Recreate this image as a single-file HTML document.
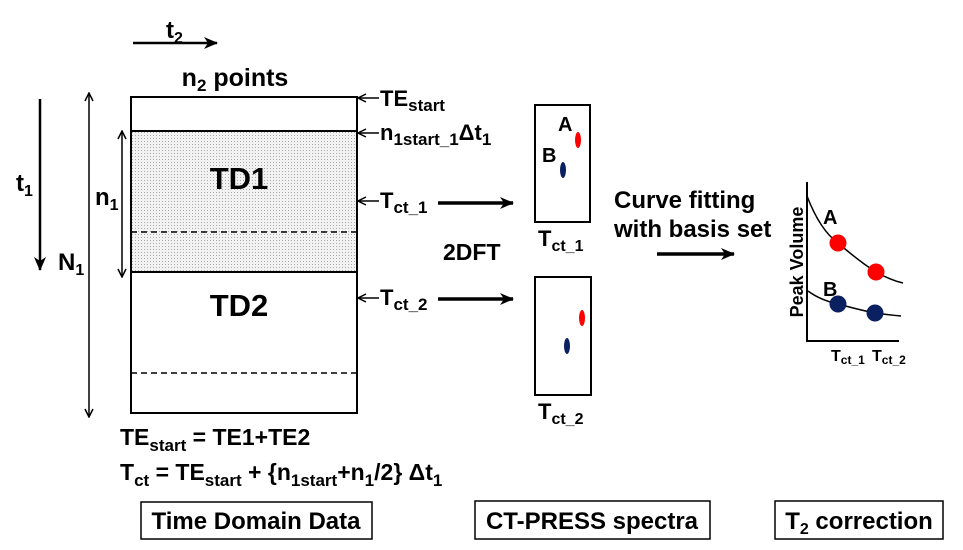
<!DOCTYPE html>
<html><head><meta charset="utf-8"><style>
html,body{margin:0;padding:0;background:#fff;}
svg{display:block;font-family:"Liberation Sans",Arial,sans-serif;font-weight:bold;}
</style></head><body>
<svg width="963" height="550" viewBox="0 0 963 550" xmlns="http://www.w3.org/2000/svg">
<defs>
<pattern id="dots" width="3" height="3" patternUnits="userSpaceOnUse"><rect width="3" height="3" fill="#f2f2f2"/><rect width="1" height="1" fill="#aaa"/></pattern>
<marker id="ah" markerWidth="14" markerHeight="14" refX="13" refY="7" orient="auto" markerUnits="userSpaceOnUse"><path d="M0,1 L14,7 L0,13 L4,7 Z" fill="#000"/></marker>
<marker id="thin" markerWidth="10" markerHeight="10" refX="9" refY="5" orient="auto" markerUnits="userSpaceOnUse"><path d="M1,1 L9,5 L1,9" fill="none" stroke="#000" stroke-width="1.5"/></marker>
<marker id="thinS" markerWidth="10" markerHeight="10" refX="1" refY="5" orient="auto" markerUnits="userSpaceOnUse"><path d="M9,1 L1,5 L9,9" fill="none" stroke="#000" stroke-width="1.5"/></marker>
</defs>

<text x="166" y="38" font-size="24">t<tspan font-size="16" dy="5">2</tspan></text>
<line x1="133" y1="43" x2="217" y2="43" stroke="#000" stroke-width="2.5" marker-end="url(#ah)"/>
<text x="235" y="86" font-size="25" text-anchor="middle">n<tspan font-size="17" dy="5">2</tspan><tspan dy="-5"> points</tspan></text>

<rect x="131" y="131" width="226" height="141" fill="url(#dots)"/>
<rect x="131" y="97" width="226" height="316" fill="none" stroke="#000" stroke-width="2"/>
<line x1="131" y1="131" x2="357" y2="131" stroke="#000" stroke-width="2"/>
<line x1="131" y1="272" x2="357" y2="272" stroke="#000" stroke-width="2"/>
<line x1="131" y1="232" x2="357" y2="232" stroke="#000" stroke-width="1.5" stroke-dasharray="6,4"/>
<line x1="131" y1="373" x2="357" y2="373" stroke="#000" stroke-width="1.5" stroke-dasharray="6,4"/>
<text x="239" y="189" font-size="31" text-anchor="middle">TD1</text>
<text x="239" y="316" font-size="31" text-anchor="middle">TD2</text>

<line x1="40" y1="99" x2="40" y2="270" stroke="#000" stroke-width="2.5" marker-end="url(#ah)"/>
<text x="16" y="191" font-size="24">t<tspan font-size="16" dy="5">1</tspan></text>
<line x1="89" y1="93" x2="89" y2="417" stroke="#000" stroke-width="1.5" marker-start="url(#thinS)" marker-end="url(#thin)"/>
<text x="58" y="270" font-size="24">N<tspan font-size="16" dy="5">1</tspan></text>
<line x1="122" y1="131" x2="122" y2="277" stroke="#000" stroke-width="1.5" marker-start="url(#thinS)" marker-end="url(#thin)"/>
<text x="95" y="205" font-size="24">n<tspan font-size="16" dy="5">1</tspan></text>

<g font-size="22">
<line x1="379" y1="98" x2="358" y2="98" stroke="#000" stroke-width="1.5" marker-end="url(#thin)"/>
<text x="380" y="106">TE<tspan font-size="17" dy="5">start</tspan></text>
<line x1="379" y1="133" x2="358" y2="133" stroke="#000" stroke-width="1.5" marker-end="url(#thin)"/>
<text x="380" y="140">n<tspan font-size="17" dy="5">1start_1</tspan><tspan dy="-5">Δt</tspan><tspan font-size="17" dy="5">1</tspan></text>
<line x1="379" y1="201" x2="358" y2="201" stroke="#000" stroke-width="1.5" marker-end="url(#thin)"/>
<text x="380" y="208">T<tspan font-size="17" dy="5">ct_1</tspan></text>
<line x1="379" y1="298" x2="358" y2="298" stroke="#000" stroke-width="1.5" marker-end="url(#thin)"/>
<text x="380" y="305">T<tspan font-size="17" dy="5">ct_2</tspan></text>
</g>

<line x1="438" y1="203" x2="513" y2="203" stroke="#000" stroke-width="3.5" marker-end="url(#ah)"/>
<line x1="438" y1="299" x2="513" y2="299" stroke="#000" stroke-width="3.5" marker-end="url(#ah)"/>
<text x="443" y="260" font-size="23">2DFT</text>

<rect x="535" y="105" width="55" height="117" fill="none" stroke="#000" stroke-width="2"/>
<text x="558" y="131" font-size="20">A</text>
<text x="542" y="162" font-size="20">B</text>
<ellipse cx="578" cy="140" rx="3" ry="8" fill="#f00"/>
<ellipse cx="563" cy="170" rx="3" ry="8" fill="#0a2060"/>
<text x="538" y="246" font-size="22">T<tspan font-size="16" dy="5">ct_1</tspan></text>
<rect x="535" y="277" width="56" height="118" fill="none" stroke="#000" stroke-width="2"/>
<ellipse cx="582" cy="318" rx="3" ry="8" fill="#f00"/>
<ellipse cx="567" cy="346" rx="3" ry="8" fill="#0a2060"/>
<text x="538" y="419" font-size="22">T<tspan font-size="16" dy="5">ct_2</tspan></text>

<text x="614" y="208" font-size="24">Curve fitting</text>
<text x="614" y="237" font-size="24">with basis set</text>
<line x1="657" y1="254" x2="734" y2="254" stroke="#000" stroke-width="3.5" marker-end="url(#ah)"/>

<polyline points="807,182 807,341 899,341" fill="none" stroke="#000" stroke-width="2"/>
<path d="M807,196 Q820,230 838,243 Q860,262 876,272 Q890,280 903,283" fill="none" stroke="#000" stroke-width="1.5"/>
<path d="M808,291 Q820,300 838,304 Q860,310 875,313 Q890,315 901,316" fill="none" stroke="#000" stroke-width="1.5"/>
<circle cx="838" cy="243" r="8.5" fill="#f00"/>
<circle cx="876" cy="272" r="8.5" fill="#f00"/>
<circle cx="838" cy="304" r="8.5" fill="#0a2060"/>
<circle cx="875" cy="313" r="8.5" fill="#0a2060"/>
<text x="823" y="224" font-size="20">A</text>
<text x="823" y="296" font-size="20">B</text>
<text transform="translate(803,262) rotate(-90)" font-size="18" text-anchor="middle">Peak Volume</text>
<text x="831" y="361" font-size="16">T<tspan font-size="12" dy="3">ct_1</tspan></text>
<text x="872" y="361" font-size="16">T<tspan font-size="12" dy="3">ct_2</tspan></text>

<text x="120" y="445" font-size="23">TE<tspan font-size="17" dy="6">start</tspan><tspan dy="-6"> = TE1+TE2</tspan></text>
<text x="120" y="480" font-size="23">T<tspan font-size="17" dy="6">ct</tspan><tspan dy="-6"> = TE</tspan><tspan font-size="17" dy="6">start</tspan><tspan dy="-6"> + {n</tspan><tspan font-size="17" dy="6">1start</tspan><tspan dy="-6">+n</tspan><tspan font-size="17" dy="6">1</tspan><tspan dy="-6">/2} Δt</tspan><tspan font-size="17" dy="6">1</tspan></text>

<rect x="141" y="502" width="231" height="37" fill="none" stroke="#000" stroke-width="1.5"/>
<text x="256" y="529" font-size="24" text-anchor="middle">Time Domain Data</text>
<rect x="475" y="501" width="235" height="38" fill="none" stroke="#000" stroke-width="1.5"/>
<text x="592" y="529" font-size="24" text-anchor="middle">CT-PRESS spectra</text>
<rect x="775" y="501" width="168" height="38" fill="none" stroke="#000" stroke-width="1.5"/>
<text x="859" y="529" font-size="24" text-anchor="middle">T<tspan font-size="16" dy="5">2</tspan><tspan dy="-5"> correction</tspan></text>
</svg>
</body></html>
